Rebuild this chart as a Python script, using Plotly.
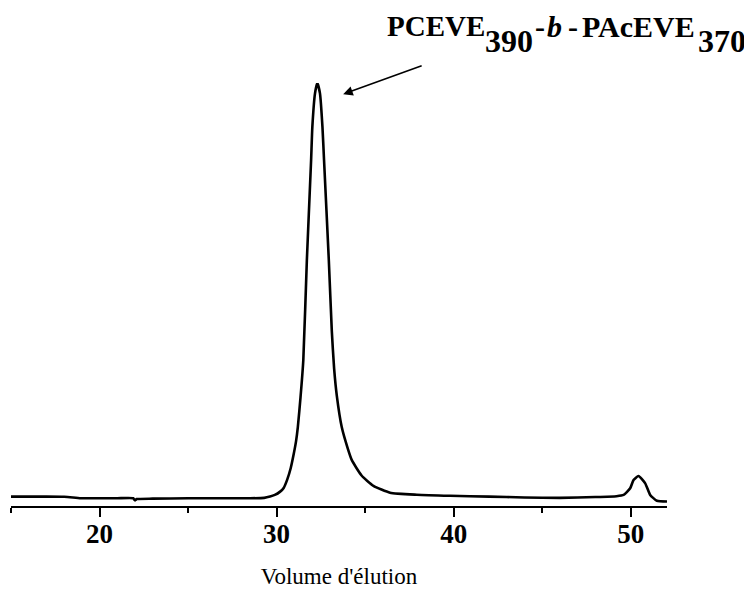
import plotly.graph_objects as go

# Elution volume (mL) and normalized detector response
volume = [15.0, 17.0, 18.0, 18.5, 19.0, 20.0, 21.0, 21.9, 22.0, 22.1, 23.0, 25.0, 27.0,
          28.5, 29.3, 29.63, 29.9, 30.2, 30.4, 30.6, 30.8, 30.95, 31.1, 31.2, 31.35,
          31.51, 31.71, 31.95, 32.02, 32.17, 32.3, 32.45, 32.59, 32.68, 32.95, 33.12,
          33.25, 33.4, 33.68, 34.0, 34.25, 34.8, 35.47, 36.41, 37.92, 39.8, 42.0, 44.0,
          46.0, 48.0, 49.2, 49.6, 49.97, 50.16, 50.44, 50.82, 51.1, 51.48, 52.05]
signal = [0.001, 0.001, 0.0005, -0.001, -0.003, -0.003, -0.003, -0.003, -0.008, -0.005,
          -0.004, -0.003, -0.003, -0.003, -0.002, 0.001, 0.005, 0.013, 0.022, 0.042,
          0.07, 0.10, 0.135, 0.169, 0.24, 0.331, 0.572, 0.814, 0.894, 0.975, 1.0, 0.975,
          0.894, 0.814, 0.572, 0.40, 0.31, 0.245, 0.169, 0.12, 0.089, 0.052, 0.027,
          0.0104, 0.0056, 0.003, 0.001, -0.001, -0.002, 0.0, 0.002, 0.005, 0.021, 0.041,
          0.0507, 0.033, 0.005, -0.009, -0.011]

tick_vals = [20, 30, 40, 50]
tick_text = ["20", "30", "40", "50"]

x_title = "Volume d'élution"
label_parts = ["PCEVE", "390", "-", "<i>b</i>", "-", "PAcEVE", "370"]

# page body has an 8px margin: figure pixel = screen pixel - 8
OFF = 8
W, H = 752 - OFF, 589 - OFF
plot_left, plot_right = 11 - OFF, 667 - OFF
plot_top, plot_bottom = 83 - OFF, 506 - OFF
L, R, T, B = plot_left, W - plot_right, plot_top, H - plot_bottom
pw, ph = plot_right - plot_left, plot_bottom - plot_top

def px_to_paper_x(px):
    return (px - OFF - plot_left) / pw

def py_to_paper_y(py):
    return (plot_bottom - (py - OFF)) / ph

fig = go.Figure()
fig.add_trace(go.Scatter(
    x=volume, y=signal, mode="lines",
    line=dict(color="black", width=2.6, shape="spline", smoothing=0.5),
    showlegend=False, hoverinfo="skip",
))

serif = "Liberation Serif, Times New Roman, serif"

# arrow pointing to the peak
fig.add_annotation(
    x=33.76, y=0.973, xref="x", yref="y",
    ax=80, ay=-29, axref="pixel", ayref="pixel",
    text="", showarrow=True, arrowhead=2, arrowsize=1.2, arrowwidth=1.6,
    arrowcolor="black",
)

# label pieces: (left px, centre py, size) in screen pixels
piece_pos = [(385, 26.5, 29), (483, 41, 32), (533, 26.5, 30), (545, 26.5, 30),
             (566, 26.5, 30), (580, 26.5, 30), (696, 41, 32)]
for txt, (pxl, pyc, sz) in zip(label_parts, piece_pos):
    fig.add_annotation(
        x=px_to_paper_x(pxl), y=py_to_paper_y(pyc), xref="paper", yref="paper",
        xanchor="left", yanchor="middle", showarrow=False,
        text="<b>" + txt + "</b>",
        font=dict(family=serif, size=sz, color="black"),
    )

fig.update_layout(
    width=W, height=H,
    margin=dict(l=L, r=R, t=T, b=B, pad=0, autoexpand=False),
    paper_bgcolor="white", plot_bgcolor="white",
    xaxis=dict(
        range=[15, 52.05], showgrid=False, zeroline=False, automargin=False,
        showline=True, linecolor="black", linewidth=2,
        ticks="outside", ticklen=9, tickwidth=2, tickcolor="black",
        tickvals=tick_vals, ticktext=tick_text, ticklabelstandoff=-6,
        tickfont=dict(family=serif, size=27, color="black", weight="bold"),
        minor=dict(dtick=5, tick0=0, ticks="outside", ticklen=5, tickwidth=2,
                   tickcolor="black", showgrid=False),
        title=dict(text=x_title, font=dict(family=serif, size=23, color="black"),
                   standoff=31),
    ),
    yaxis=dict(range=[-0.0217, 1.0], visible=False),
)

fig.write_html("out.html")
